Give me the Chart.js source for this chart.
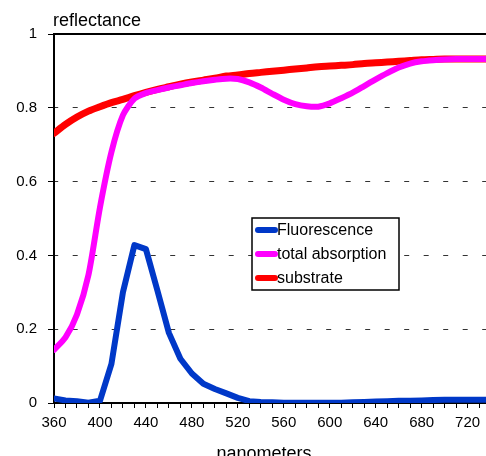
<!DOCTYPE html>
<html>
<head>
<meta charset="utf-8">
<script src="https://cdn.jsdelivr.net/npm/chart.js@4.4.1/dist/chart.umd.min.js"></script>
<style>
  html, body { margin: 0; padding: 0; background: #fff; }
  canvas { display: block; }
</style>
</head>
<body>
<canvas id="myChart" width="486" height="456"></canvas>
<script>
// wavelength (nm)
const nm = [360, 370, 380, 390, 400, 410, 420, 430, 440, 450, 460, 470, 480, 490, 500, 510, 520, 530, 540, 550,
            560, 570, 580, 590, 600, 610, 620, 630, 640, 650, 660, 670, 680, 690, 700, 710, 720, 730, 740];

const fluorescence = [0.012, 0.007, 0.005, 0.001, 0.006, 0.106, 0.300, 0.428, 0.417, 0.305, 0.190, 0.120, 0.080, 0.052, 0.038, 0.026, 0.014, 0.005, 0.003, 0.002,
                      0.001, 0.001, 0.001, 0.001, 0.001, 0.001, 0.002, 0.003, 0.004, 0.005, 0.006, 0.006, 0.007, 0.008, 0.009, 0.009, 0.009, 0.009, 0.009];

const totalAbsorption = [0.144, 0.178, 0.240, 0.347, 0.530, 0.680, 0.780, 0.825, 0.840, 0.848, 0.855, 0.861, 0.867, 0.872, 0.876, 0.879, 0.878, 0.869, 0.855, 0.838,
                         0.822, 0.810, 0.804, 0.803, 0.812, 0.826, 0.841, 0.859, 0.877, 0.894, 0.909, 0.920, 0.926, 0.929, 0.931, 0.932, 0.932, 0.932, 0.932];

const substrate = [0.731, 0.755, 0.775, 0.791, 0.803, 0.814, 0.823, 0.833, 0.842, 0.850, 0.857, 0.864, 0.870, 0.875, 0.880, 0.886, 0.889, 0.893, 0.896, 0.899,
                   0.902, 0.905, 0.908, 0.911, 0.913, 0.915, 0.917, 0.920, 0.922, 0.924, 0.926, 0.928, 0.930, 0.931, 0.932, 0.932, 0.932, 0.932, 0.932];

const seriesNames = ['Fluorescence', 'total absorption', 'substrate'];
const seriesColors = ['#0038C8', '#FF00FF', '#FF0000'];

const FONT = '"Liberation Sans", Arial, sans-serif';

function points(vals) {
  return nm.map((x, i) => ({ x: x, y: vals[i] }));
}

// axis titles + boxed legend inside the plot
const extras = {
  id: 'extras',
  afterDraw(chart) {
    const ctx = chart.ctx;
    ctx.save();
    ctx.fillStyle = '#000';
    ctx.font = '18px ' + FONT;
    ctx.textAlign = 'left';
    ctx.textBaseline = 'alphabetic';
    ctx.fillText('reflectance', 53, 26);
    ctx.textAlign = 'center';
    ctx.fillText('nanometers', 264, 459);

    // legend box
    const bx = 252, by = 218, bw = 147, bh = 72;
    ctx.fillStyle = '#fff';
    ctx.fillRect(bx, by, bw, bh);
    ctx.strokeStyle = '#000';
    ctx.lineWidth = 1.5;
    ctx.strokeRect(bx, by, bw, bh);
    const rows = [230, 254, 278];
    ctx.font = '16px ' + FONT;
    ctx.textAlign = 'left';
    ctx.textBaseline = 'middle';
    chart.data.datasets.forEach((ds, i) => {
      ctx.strokeStyle = ds.borderColor;
      ctx.lineWidth = 6;
      ctx.lineCap = 'round';
      ctx.beginPath();
      ctx.moveTo(258, rows[i]);
      ctx.lineTo(275, rows[i]);
      ctx.stroke();
      ctx.fillStyle = '#000';
      ctx.fillText(ds.label, 277, rows[i] + 1);
    });
    ctx.restore();
  }
};

var ctx = document.getElementById('myChart').getContext('2d');
var myChart = new Chart(ctx, {
  type: 'line',
  data: {
    datasets: [
      { label: seriesNames[0], data: points(fluorescence), borderColor: seriesColors[0], borderWidth: 6 },
      { label: seriesNames[1], data: points(totalAbsorption), borderColor: seriesColors[1], borderWidth: 6, tension: 0.25 },
      { label: seriesNames[2], data: points(substrate), borderColor: seriesColors[2], borderWidth: 7, tension: 0.3 }
    ]
  },
  options: {
    responsive: false,
    animation: false,
    elements: {
      point: { radius: 0, hoverRadius: 0 },
      line: { tension: 0, borderCapStyle: 'round', borderJoinStyle: 'round', fill: false }
    },
    layout: { padding: { top: 34, right: 0, bottom: 0, left: 0 } },
    plugins: {
      legend: { display: false },
      tooltip: { enabled: false }
    },
    scales: {
      x: {
        type: 'linear',
        position: 'bottom',
        min: 360,
        max: 736,
        afterFit: s => { s.height = 53; },
        ticks: {
          stepSize: 10,
          includeBounds: false,
          autoSkip: false,
          maxRotation: 0,
          padding: 6,
          color: '#000',
          font: { family: FONT, size: 15 },
          callback: v => (v % 40 === 0 ? String(v) : '')
        },
        grid: { drawOnChartArea: false, drawTicks: true, tickLength: 5, tickColor: '#000', tickWidth: 1 },
        border: { display: true, color: '#000', width: 2 }
      },
      xTop: {
        type: 'linear',
        position: 'top',
        min: 360,
        max: 736,
        afterFit: s => { s.height = 0; },
        ticks: { display: false },
        grid: { display: false },
        border: { display: true, color: '#000', width: 2 }
      },
      y: {
        min: 0,
        max: 1,
        afterFit: s => { s.width = 54; },
        ticks: {
          stepSize: 0.2,
          padding: 11,
          color: '#000',
          font: { family: FONT, size: 15 },
          callback: v => String(Math.round(v * 10) / 10)
        },
        grid: {
          color: c => (c.tick && (c.tick.value === 0 || c.tick.value === 1) ? 'rgba(0,0,0,0)' : '#333'),
          lineWidth: 1,
          tickLength: 6,
          tickColor: '#000',
          tickWidth: 1
        },
        border: { display: true, color: '#000', width: 2, dash: [5, 14.5], dashOffset: 1.8 }
      }
    }
  },
  plugins: [extras]
});
</script>
</body>
</html>
